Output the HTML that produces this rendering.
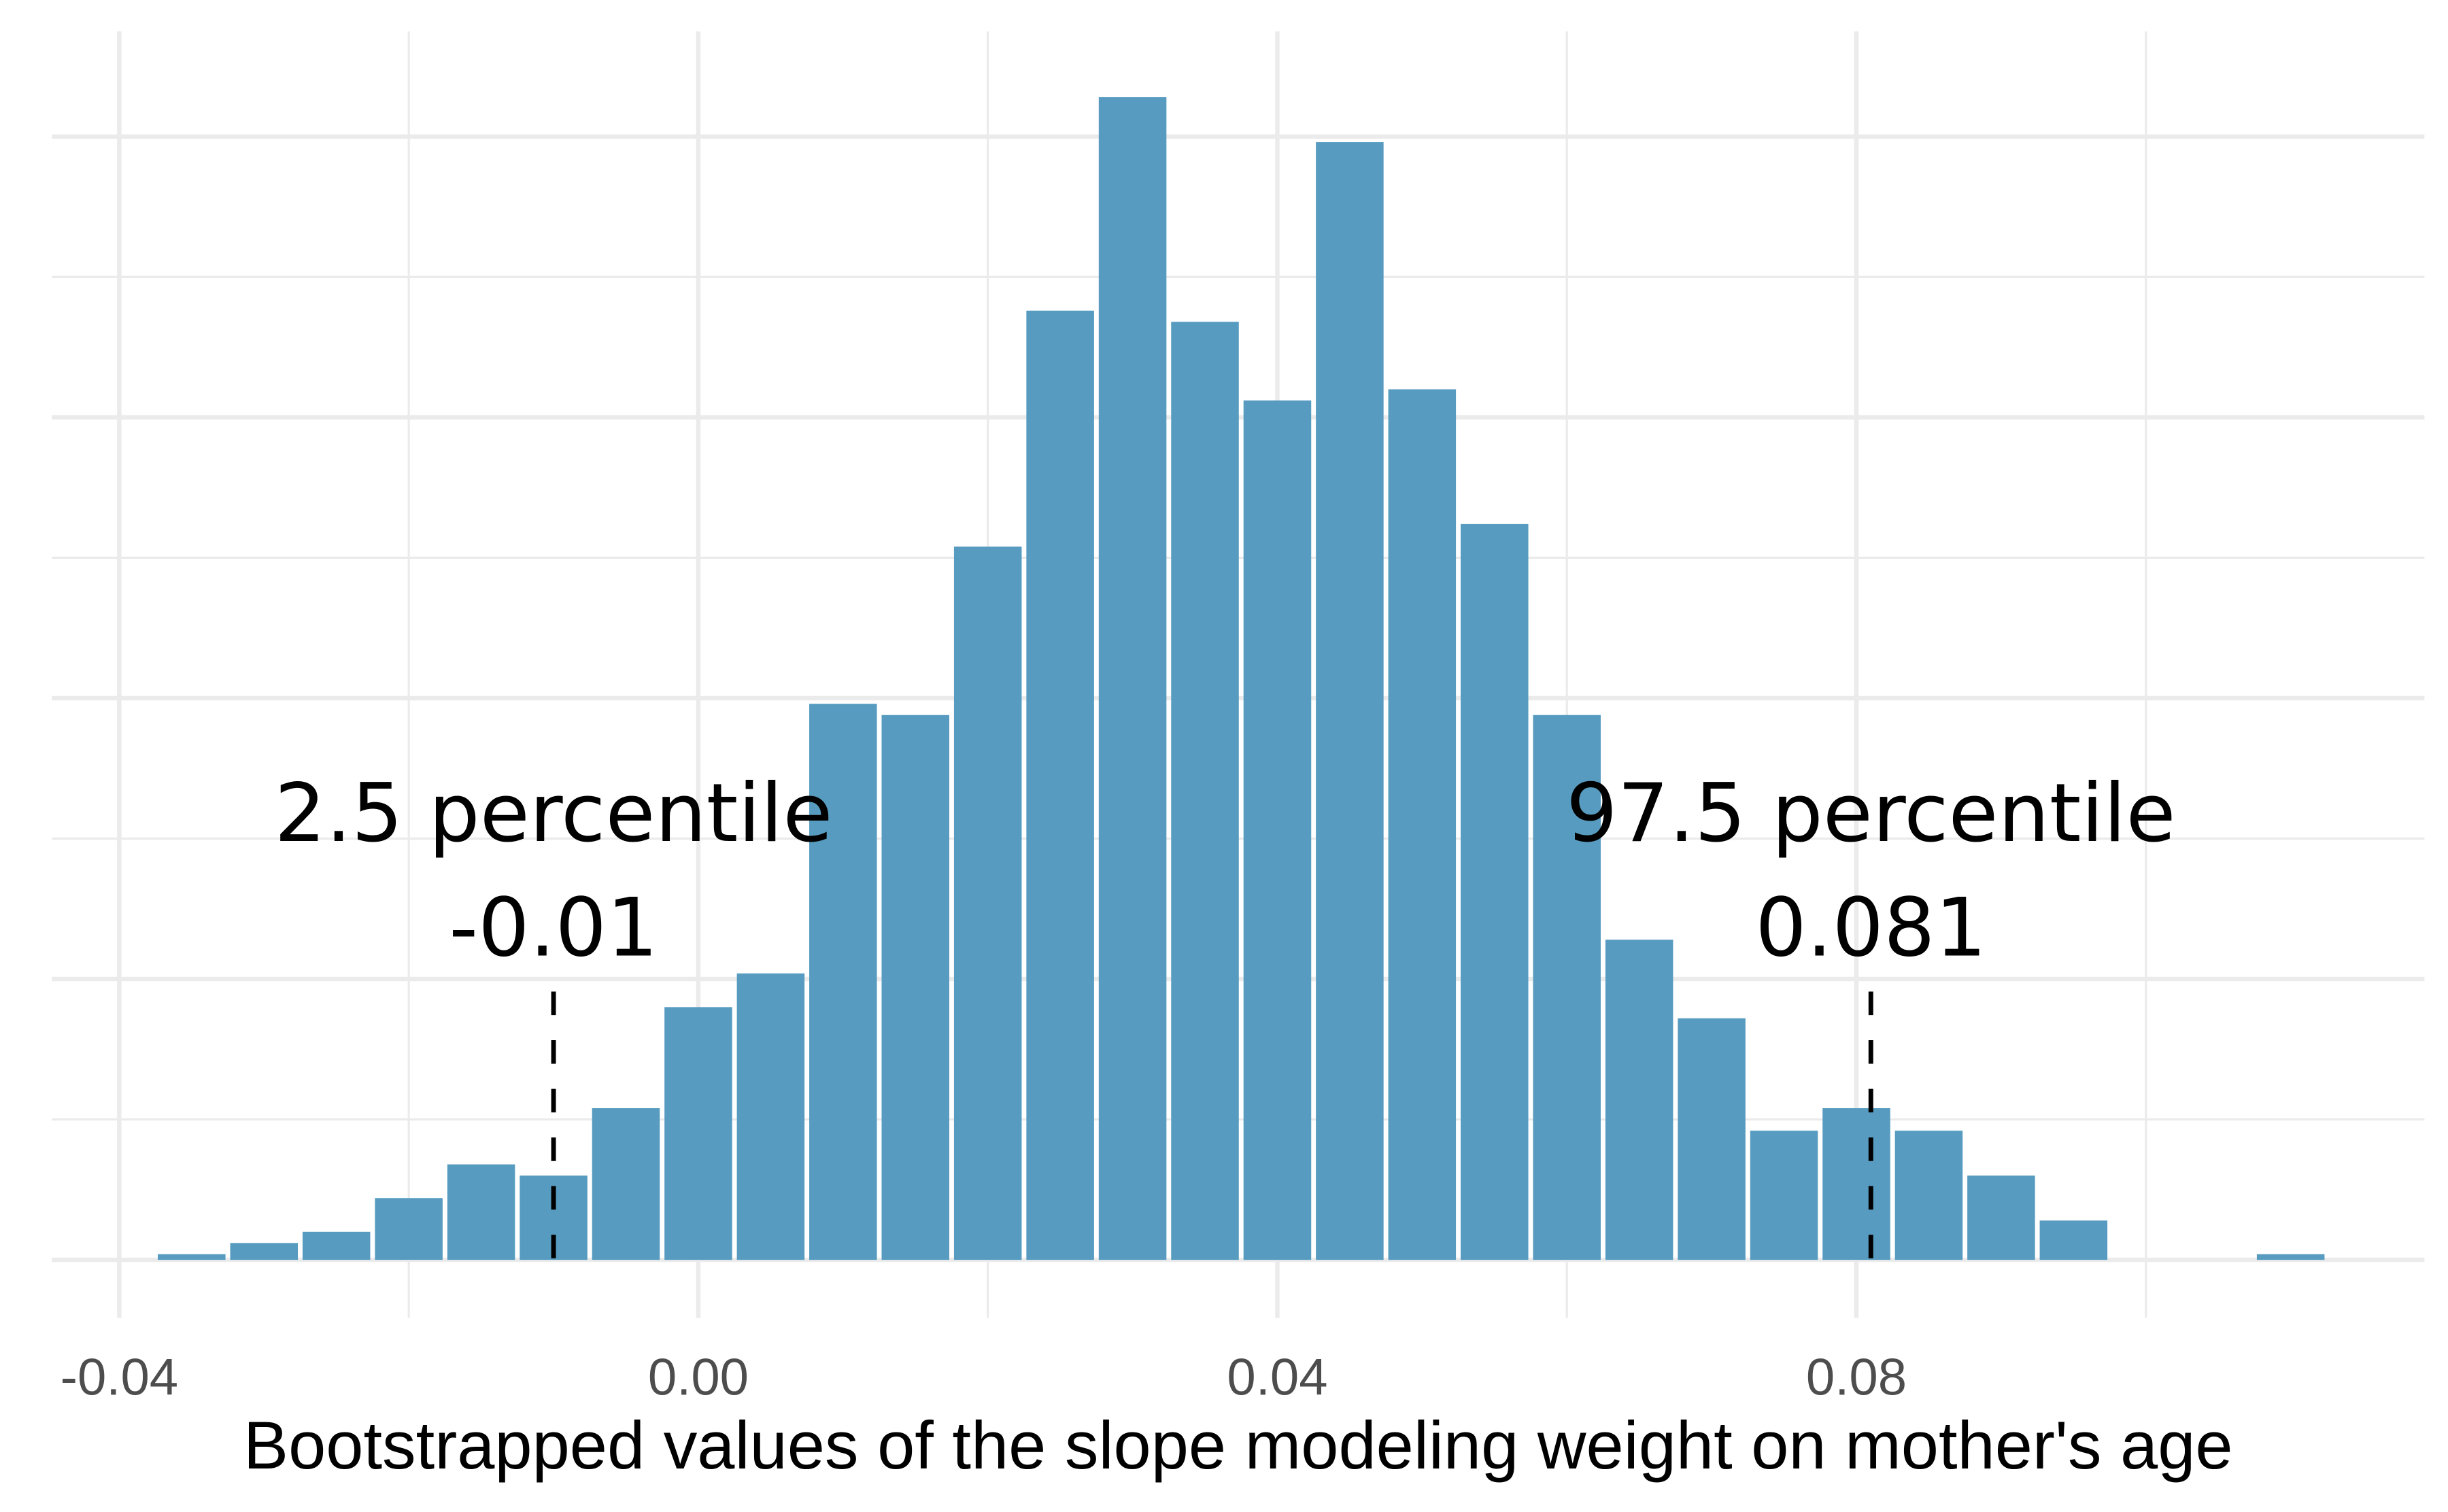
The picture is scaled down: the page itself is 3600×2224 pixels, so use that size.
<!DOCTYPE html>
<html><head><meta charset="utf-8">
<style>html,body{margin:0;padding:0;background:#fff}svg{display:block}</style></head>
<body>
<svg id="chart" width="3600" height="2224" viewBox="0 0 1560 963.7" xmlns="http://www.w3.org/2000/svg">
<g id="grid"></g>
<g id="bars"></g>
<g id="marks"></g>
<g id="axis"></g>
<text x="789" y="936" text-anchor="middle" font-family="Liberation Sans, sans-serif" font-size="43" fill="#000">Bootstrapped values of the slope modeling weight on mother's age</text>
</svg>
<script>
const binCenters = [-0.035,-0.030,-0.025,-0.020,-0.015,-0.010,-0.005,0.000,0.005,0.010,0.015,0.020,0.025,0.030,0.035,0.040,0.045,0.050,0.055,0.060,0.065,0.070,0.075,0.080,0.085,0.090,0.095,0.100,0.105,0.110];
const counts = [1,3,5,11,17,15,27,45,51,99,97,127,169,207,167,153,199,155,131,97,57,43,23,27,23,15,7,0,0,1];
const xTicks = [-0.04,0.00,0.04,0.08];
const xTickLabels = ["-0.04","0.00","0.04","0.08"];
const xMinor = [-0.02,0.02,0.06,0.10];
const yMajor = [0,50,100,150,200];
const yMinor = [25,75,125,175];
const percentiles = [-0.010,0.081];
const pctTitles = ["2.5 percentile","97.5 percentile"];
const pctLabels = ["-0.01","0.081"];
const binWidth = 0.005;

const NS="http://www.w3.org/2000/svg";
const x = v => 445 + v*9225;
const y = c => 803 - c*3.58;
const L=33, R=1545, T=20, B=840;
function mk(tag, attrs, parent){const e=document.createElementNS(NS,tag);for(const k in attrs)e.setAttribute(k,attrs[k]);parent.appendChild(e);return e;}
const grid=document.getElementById('grid'), bars=document.getElementById('bars'), marks=document.getElementById('marks'), axis=document.getElementById('axis');
yMinor.forEach(c=>{const e=mk('line',{x1:L,x2:R,y1:y(c),y2:y(c),stroke:'#ebebeb','stroke-width':1.4},grid);

});
yMajor.forEach(c=>{const e=mk('line',{x1:L,x2:R,y1:y(c),y2:y(c),stroke:'#ebebeb','stroke-width':2.8},grid);

});
xMinor.forEach(v=>{const e=mk('line',{x1:x(v),x2:x(v),y1:T,y2:B,stroke:'#ebebeb','stroke-width':1.4},grid);

});
xTicks.forEach((v,i)=>{const e=mk('line',{x1:x(v),x2:x(v),y1:T,y2:B,stroke:'#ebebeb','stroke-width':2.8},grid);


const t=mk('text',{x:x(v),y:889,'text-anchor':'middle','font-family':'Liberation Sans, sans-serif','font-size':33,fill:'#4d4d4d'},axis);
t.textContent=xTickLabels[i];

});
binCenters.forEach((v,i)=>{if(counts[i]<=0)return;
const x0=x(v-binWidth/2), x1=x(v+binWidth/2);
const r=mk('rect',{x:x0+1.5,y:y(counts[i]),width:x1-x0-3,height:y(0)-y(counts[i]),fill:'#579cc0'},bars);

});
percentiles.forEach((v,i)=>{const l=mk('line',{x1:x(v),x2:x(v),y1:632,y2:803,stroke:'#000','stroke-width':3,'stroke-dasharray':'15 16'},marks);


const t1=mk('text',{x:x(v),y:536,'text-anchor':'middle','font-family':'DejaVu Sans, sans-serif','font-size':51.5,fill:'#000'},marks);
t1.textContent=pctTitles[i];


const t2=mk('text',{x:x(v),y:609,'text-anchor':'middle','font-family':'DejaVu Sans, sans-serif','font-size':51.5,fill:'#000'},marks);
t2.textContent=pctLabels[i];

});
</script>
</body></html>
